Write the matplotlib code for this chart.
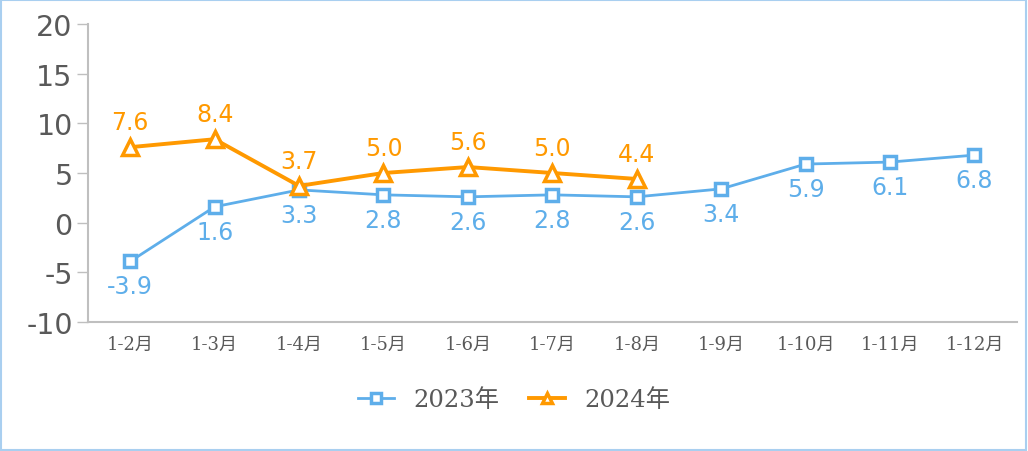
import matplotlib.pyplot as plt
from matplotlib.patches import Rectangle

plt.rcParams['font.family'] = ['DejaVu Sans', 'Noto Sans CJK SC']

months = ['1-2月', '1-3月', '1-4月', '1-5月', '1-6月', '1-7月', '1-8月',
          '1-9月', '1-10月', '1-11月', '1-12月']
v2023 = [-3.9, 1.6, 3.3, 2.8, 2.6, 2.8, 2.6, 3.4, 5.9, 6.1, 6.8]
v2024 = [7.6, 8.4, 3.7, 5.0, 5.6, 5.0, 4.4]
yticks = [-10, -5, 0, 5, 10, 15, 20]

blue = '#5EAEEA'
orange = '#FF9900'
grey = '#595959'

fig = plt.figure(figsize=(10.28, 4.52), dpi=100)
ax = fig.add_axes([0.0856, 0.2854, 0.9034, 0.6593])

x23 = list(range(len(v2023)))
x24 = list(range(len(v2024)))

ax.plot(x23, v2023, '-s', color=blue, lw=2.0, ms=8, mfc='white', mew=2.5,
        label='2023年', zorder=3)
ax.plot(x24, v2024, '-^', color=orange, lw=2.8, ms=11, mfc='white', mew=2.5,
        label='2024年', zorder=4)

for x, v in zip(x23, v2023):
    ax.annotate(f'{v:.1f}', (x, v), xytext=(0, -18), textcoords='offset points',
                ha='center', va='center', color=blue, fontsize=17)
for x, v in zip(x24, v2024):
    ax.annotate(f'{v:.1f}', (x, v), xytext=(0, 18), textcoords='offset points',
                ha='center', va='center', color=orange, fontsize=17)

ax.set_xlim(-0.5, len(months) - 0.5)
ax.set_ylim(-10, 20)
ax.set_yticks(yticks)
ax.set_yticklabels([str(t) for t in yticks], fontsize=20.5, color=grey)
ax.set_xticks(x23)
ax.set_xticklabels(months, fontsize=13, color=grey,
                   family=['DejaVu Serif', 'Noto Sans CJK SC'])
ax.tick_params(axis='y', length=8, color='#BFBFBF', width=1, pad=3)
ax.tick_params(axis='x', length=0, pad=9)

for s in ['top', 'right']:
    ax.spines[s].set_visible(False)
for s in ['left', 'bottom']:
    ax.spines[s].set_color('#BFBFBF')
    ax.spines[s].set_linewidth(1.5)

leg = fig.legend(loc='center', bbox_to_anchor=(0.5, 0.113), ncol=2, frameon=False,
                 prop={'family': ['DejaVu Serif', 'Noto Sans CJK SC'], 'size': 17.5},
                 handlelength=1.5, columnspacing=1.2, handletextpad=0.8)
for t in leg.get_texts():
    t.set_color(grey)
for h in leg.legend_handles:
    h.set_markersize(7)

fig.patches.append(Rectangle((0.001, 0.002), 0.997, 0.995, transform=fig.transFigure,
                             fill=False, edgecolor='#A9CFF0', lw=1.5))

fig.savefig('out.png', dpi=100)
